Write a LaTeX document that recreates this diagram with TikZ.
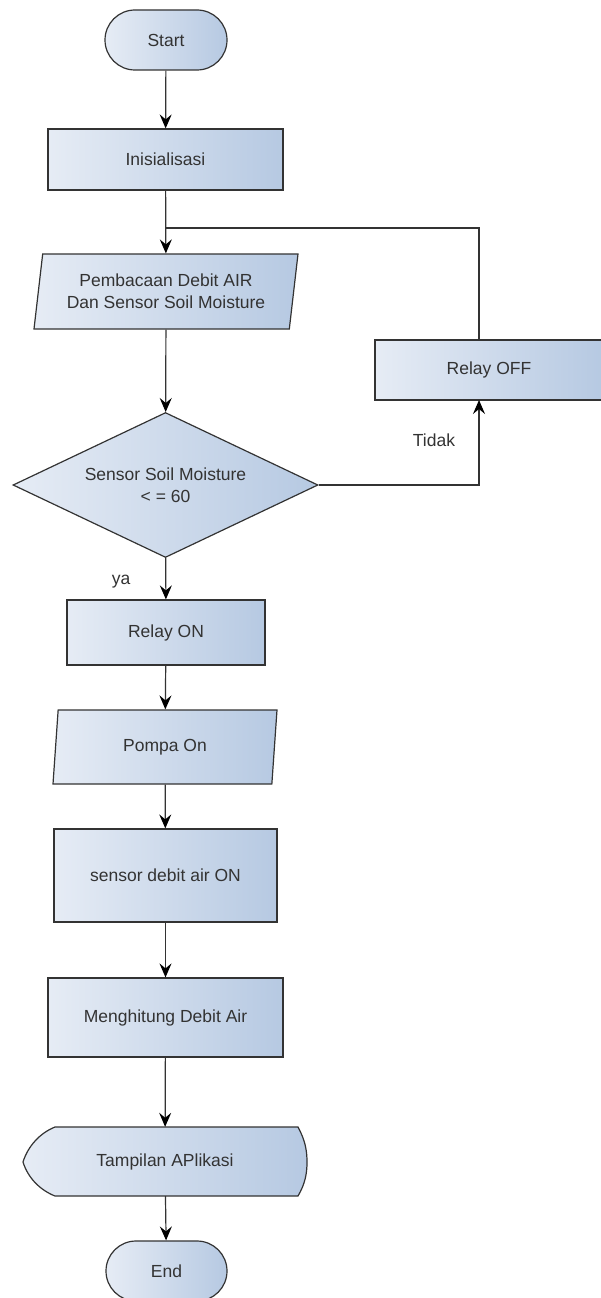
\documentclass[tikz,border=0pt]{standalone}
\usepackage{fontspec}
\setmainfont{Liberation Sans}
\usepackage{tikz}
\usetikzlibrary{shapes,arrows.meta,positioning,backgrounds}

\definecolor{lineC}{HTML}{333333}
\definecolor{fillL}{HTML}{E6ECF5}
\definecolor{fillR}{HTML}{B6C9E2}

\tikzset{
	txt/.style={text=lineC, font=\fontsize{17.5}{22}\selectfont, align=center},
	box/.style={txt, draw=lineC, line width=1.2pt, left color=fillL, right color=fillR, inner sep=0pt},
	proc/.style={box, rectangle},
	term/.style={box, rounded rectangle},
	io/.style 2 args={box, trapezium, trapezium stretches body, trapezium left angle=#1, trapezium right angle=#2},
	cond/.style={box, diamond, aspect=2.1},
	line/.style={draw=lineC, line width=1.2pt},
	flow/.style={line, -{Stealth[length=14pt,width=12pt,inset=5pt,color=black]}}
}

\begin{document}
\begin{tikzpicture}[x=1pt, y=-1pt]
				\useasboundingbox (0,0) rectangle (600,1298);

				% main column
				\node [term, minimum width=122, minimum height=60] (start) at (166,40) {Start};
				\node [proc, minimum width=235, minimum height=61] (init) at (165.5,159.5) {Inisialisasi};
				\node [io={76}{104}, minimum width=264, minimum height=75] (read) at (166,291.5) {Pembacaan Debit AIR\\Dan Sensor Soil Moisture};
				\node [cond, minimum width=305, minimum height=145] (dec) at (165.5,485) {Sensor Soil Moisture\\< = 60};
				\node [proc, minimum width=198, minimum height=65] (on) at (166,632.5) {Relay ON};
				\node [io={72}{108}, minimum width=224, minimum height=74] (pump) at (165,747) {Pompa On};
				\node [proc, minimum width=223, minimum height=93] (sens) at (165.5,875.5) {sensor debit air ON};
				\node [proc, minimum width=235, minimum height=79] (count) at (165.5,1017.5) {Menghitung Debit Air};
				\node [txt, minimum width=284, minimum height=69, inner sep=0pt] (disp) at (165,1161.5) {Tampilan APlikasi};
				\node [term, minimum width=121, minimum height=60] (stop) at (166.5,1271) {End};

				% side branch
				\node [proc, minimum width=228, minimum height=60] (off) at (489,370) {Relay OFF};
				\coordinate (offin) at (479,400);
				\coordinate (offout) at (479,340);
				\coordinate (join) at (166,228);

				% display shape
				\begin{scope}[on background layer]
				\draw [line, left color=fillL, right color=fillR]
					(55,1127) -- (298,1127) .. controls (305,1140) and (307,1150) .. (307,1162)
					.. controls (307,1174) and (305,1184) .. (298,1196) -- (55,1196)
					.. controls (40,1190) and (28,1178) .. (23,1162)
					.. controls (28,1146) and (40,1133) .. (55,1127) -- cycle;
				\end{scope}

				\draw [flow] (start) -- (init);
				\draw [flow] (init) -- (read);
				\draw [flow] (read) -- (dec);
				\draw [flow] (dec) -- (on);
				\draw [flow] (on) -- (pump);
				\draw [flow] (pump) -- (sens);
				\draw [flow] (sens) -- (count);
				\draw [flow] (count) -- (disp);
				\draw [flow] (disp) -- (stop);

				\draw [flow] (dec.east) -| (offin);
				\draw [line] (offout) |- (join);

				\node [txt] (no) at (434,440) {Tidak};
				\node [txt] (yes) at (121,582) {ya};
\end{tikzpicture}
\end{document}
